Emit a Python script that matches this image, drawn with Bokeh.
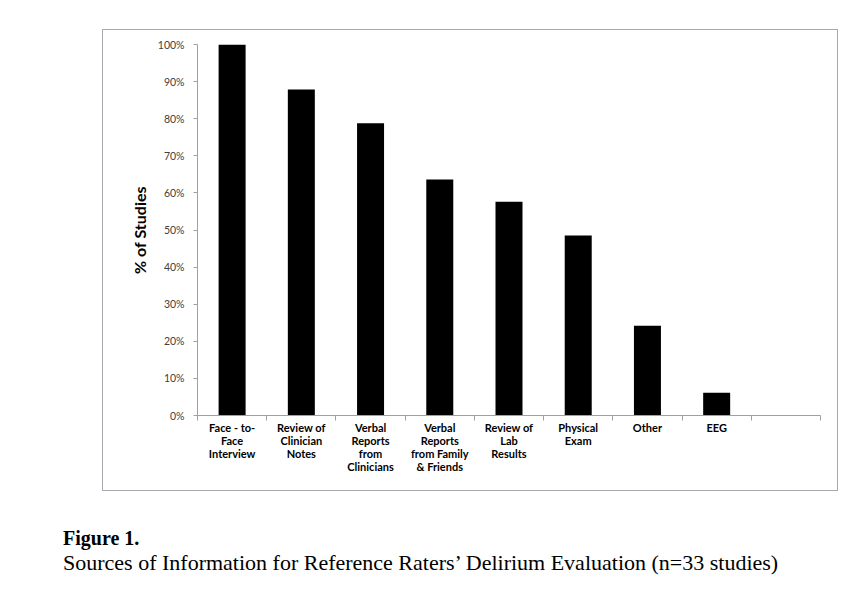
from bokeh.plotting import figure
from bokeh.models import Range1d, FixedTicker, NumeralTickFormatter, Div, Spacer
from bokeh.layouts import column, row
from bokeh.embed import file_html
from bokeh.resources import INLINE

categories = [
    "Face - to-\nFace\nInterview",
    "Review of\nClinician\nNotes",
    "Verbal\nReports\nfrom\nClinicians",
    "Verbal\nReports\nfrom Family\n& Friends",
    "Review of\nLab\nResults",
    "Physical\nExam",
    "Other",
    "EEG",
]
values = [1.000, 0.879, 0.788, 0.636, 0.576, 0.485, 0.242, 0.061]
y_ticks = [0.0, 0.1, 0.2, 0.3, 0.4, 0.5, 0.6, 0.7, 0.8, 0.9, 1.0]
y_label = "% of Studies"
fig_caption = "Figure 1."
fig_title = "Sources of Information for Reference Raters\u2019 Delirium Evaluation (n=33 studies)"

n_slots = len(categories) + 1
x_pos = [i + 0.5 for i in range(len(categories))]

p = figure(width=736, height=462, output_backend="svg", toolbar_location=None,
           x_range=Range1d(0, n_slots), y_range=Range1d(0, 1),
           min_border_left=94, min_border_right=19, min_border_top=14, min_border_bottom=77)
p.styles = {"border": "1px solid #a8a8ae"}
p.outline_line_color = None
p.xgrid.grid_line_color = None
p.ygrid.grid_line_color = None
p.background_fill_color = "white"
p.border_fill_color = "white"

p.vbar(x=x_pos, top=values, width=0.39, fill_color="black", line_color=None)

# x axis
xa = p.xaxis[0]
xa.ticker = FixedTicker(ticks=x_pos, minor_ticks=list(range(n_slots + 1)))
xa.major_label_overrides = {x: c for x, c in zip(x_pos, categories)}
xa.major_tick_line_color = None
xa.major_tick_out = 0
xa.major_tick_in = 0
xa.minor_tick_line_color = "#a0a0a0"
xa.minor_tick_out = 5
xa.minor_tick_in = 0
xa.axis_line_color = "#a0a0a0"
xa.major_label_standoff = 0
xa.major_label_text_font = "Lato"
xa.major_label_text_font_style = "bold"
xa.major_label_text_font_size = "11px"
xa.major_label_text_color = "black"
xa.major_label_text_line_height = 1.0

# y axis
ya = p.yaxis[0]
ya.ticker = FixedTicker(ticks=y_ticks, minor_ticks=[])
ya.formatter = NumeralTickFormatter(format="0%")
ya.axis_line_color = "#a0a0a0"
ya.major_tick_line_color = "#a0a0a0"
ya.major_tick_out = 4
ya.major_tick_in = 0
ya.minor_tick_line_color = None
ya.major_label_standoff = 9
ya.major_label_text_font = "Lato"
ya.major_label_text_font_size = "10.5px"
ya.major_label_text_color = "#404040"
ya.axis_label = y_label
ya.axis_label_text_font = "Lato"
ya.axis_label_text_font_style = "bold"
ya.axis_label_text_font_size = "16px"
ya.axis_label_text_color = "black"
ya.axis_label_standoff = 6

caption = Div(
    text=(f"<div style=\"font-family:'Liberation Serif','Times New Roman',serif;"
          f"color:black;white-space:nowrap;\">"
          f"<div style=\"font-size:20px;line-height:24px;font-weight:bold;\">{fig_caption}</div>"
          f"<div style=\"font-size:22px;line-height:26px;\">{fig_title}</div></div>"),
    width=790, height=52)

layout = column(
    Spacer(height=29),
    row(Spacer(width=102), p),
    Spacer(height=30),
    row(Spacer(width=58), caption),
)

open("out.html", "w").write(file_html(layout, INLINE))
